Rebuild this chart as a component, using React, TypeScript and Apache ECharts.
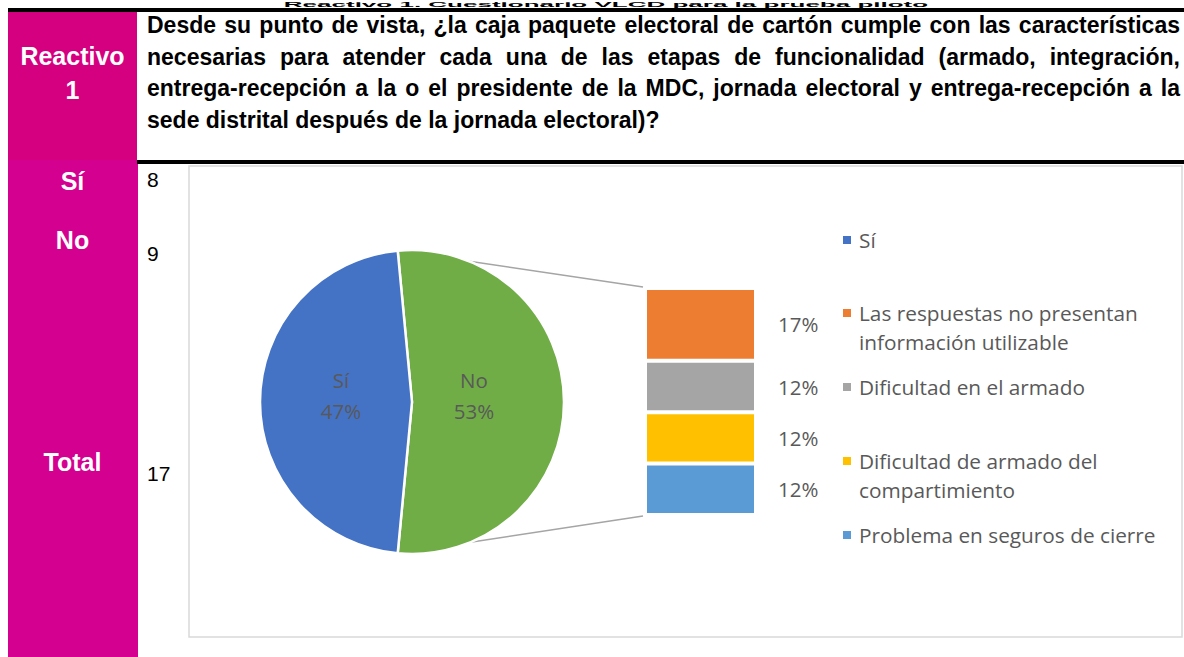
import React, { useEffect, useRef } from "react";
import * as echarts from "echarts";

// ---------- data ----------
const pageTitle = "Reactivo 1. Cuestionario VLCD para la prueba piloto";
const itemLabel = ["Reactivo", "1"];
const questionLines = [
  "Desde su punto de vista, ¿la caja paquete electoral de cartón cumple con las características",
  "necesarias para atender cada una de las etapas de funcionalidad (armado, integración,",
  "entrega-recepción a la o el presidente de la MDC, jornada electoral y entrega-recepción a la",
  "sede distrital después de la jornada electoral)?",
];
const rowLabels = ["Sí", "No", "Total"];
const rowCounts = [8, 9, 17];

const siName = "Sí";
const noName = "No";
const siPercent = 47;
const noReasons = [
  "Las respuestas no presentan información utilizable",
  "Dificultad en el armado",
  "Dificultad de armado del compartimiento",
  "Problema en seguros de cierre",
];
const noReasonPercents = [17, 12, 12, 12];
const legendLines = [
  ["Sí"],
  ["Las respuestas no presentan", "información utilizable"],
  ["Dificultad en el armado"],
  ["Dificultad de armado del", "compartimiento"],
  ["Problema en seguros de cierre"],
];

// ---------- styles ----------
const siColor = "#4472C4";
const noColor = "#70AD47";
const reasonColors = ["#ED7D31", "#A5A5A5", "#FFC000", "#5B9BD5"];
const legendColors = [siColor, ...reasonColors];
const textGrey = "#595959";
const labelFont = '"Open Sans", "Noto Sans", sans-serif';

const rowLabelY = [181, 240, 462];
const rowCountY = [180, 254, 474];
const legendY = [75, 148, 222, 296, 370];

const magentaTop = "#D5007F";
const magentaBottom = "#D4008F";

function Chart() {
  const ref = useRef<HTMLDivElement>(null);
  useEffect(() => {
    if (!ref.current) return;
    const chart = echarts.init(ref.current, undefined, { renderer: "svg" });
    const noTotal = noReasonPercents.reduce((a, b) => a + b, 0);
    const total = siPercent + noTotal;
    const half = (noTotal / total) * 180;
    const cx = 224;
    const cy = 237;
    const r = 152;
    const rad = (half * Math.PI) / 180;
    const px = cx + r * Math.cos(rad);
    const py1 = cy - r * Math.sin(rad);
    const py2 = cy + r * Math.sin(rad);
    const grid = { left: 457, top: 123, width: 111, height: 227 };

    const graphic: any[] = [
      {
        type: "rect",
        z: 0,
        shape: { x: 1, y: 1, width: 993, height: 471 },
        style: { fill: "none", stroke: "#D9D9D9", lineWidth: 1.5 },
      },
      {
        type: "line",
        z: 0,
        shape: { x1: px, y1: py1, x2: grid.left - 2, y2: grid.top - 1 },
        style: { stroke: "#A5A5A5", lineWidth: 1.5 },
      },
      {
        type: "line",
        z: 0,
        shape: { x1: px, y1: py2, x2: grid.left - 2, y2: grid.top + grid.height + 1 },
        style: { stroke: "#A5A5A5", lineWidth: 1.5 },
      },
    ];
    legendLines.forEach((lines, i) => {
      const y = legendY[i];
      graphic.push({
        type: "rect",
        z: 10,
        shape: { x: 655, y: y - 4, width: 8, height: 8 },
        style: { fill: legendColors[i] },
      });
      graphic.push({
        type: "text",
        z: 10,
        x: 671,
        y: y - 14.5,
        style: {
          text: lines.join("\n"),
          fill: textGrey,
          font: `20.8px ${labelFont}`,
          lineHeight: 29,
          verticalAlign: "top",
          textAlign: "left",
        },
      });
    });

    chart.setOption({
      animation: false,
      grid: { ...grid, containLabel: false },
      xAxis: { type: "category", data: [noName], show: false },
      yAxis: { type: "value", min: 0, max: noTotal, inverse: true, show: false },
      graphic,
      series: [
        {
          type: "pie",
          center: [cx, cy],
          radius: r,
          startAngle: half,
          clockwise: true,
          z: 5,
          data: [
            {
              name: noName,
              value: noTotal,
              itemStyle: { color: noColor },
              label: { offset: [-17, -7] },
            },
            {
              name: siName,
              value: siPercent,
              itemStyle: { color: siColor },
              label: { offset: [8, -7] },
            },
          ],
          itemStyle: { borderColor: "#ffffff", borderWidth: 2.5 },
          label: {
            show: true,
            position: "inside",
            formatter: "{b}\n{c}%",
            color: textGrey,
            fontSize: 20.5,
            lineHeight: 31,
            fontFamily: labelFont,
          },
          labelLine: { show: false },
          emphasis: { disabled: true },
        },
        ...noReasons.map((name, i) => ({
          type: "bar",
          name,
          stack: "no",
          data: [noReasonPercents[i]],
          barWidth: "100%",
          itemStyle: { color: reasonColors[i], borderColor: "#ffffff", borderWidth: 2 },
          label: {
            show: true,
            position: "right",
            distance: 22,
            formatter: "{c}%",
            color: textGrey,
            fontSize: 20.5,
            fontFamily: labelFont,
          },
          emphasis: { disabled: true },
        })),
      ],
    });
    return () => chart.dispose();
  }, []);
  return (
    <div
      ref={ref}
      style={{ position: "absolute", left: 188, top: 165, width: 996, height: 474 }}
    />
  );
}

export default function App() {
  const white: React.CSSProperties = {
    position: "absolute",
    left: 8,
    width: 129,
    textAlign: "center",
    color: "#ffffff",
    fontWeight: "bold",
    fontSize: 25,
    lineHeight: "34px",
  };
  return (
    <div
      style={{
        position: "relative",
        width: 1184,
        height: 657,
        overflow: "hidden",
        background: "#ffffff",
        fontFamily: '"Liberation Sans", Arial, sans-serif',
        color: "#000000",
      }}
    >
      <style>{"html,body{margin:0;padding:0;}"}</style>
      <div
        style={{
          position: "absolute",
          left: 206,
          width: 800,
          top: 0,
          height: 8,
          overflow: "hidden",
        }}
      >
        <div
          style={{
            position: "absolute",
            left: 0,
            width: 800,
            top: 0,
            textAlign: "center",
            fontWeight: "bold",
            fontSize: 26,
            lineHeight: "26px",
            whiteSpace: "nowrap",
            transform: "scaleY(0.3)",
            transformOrigin: "50% 0",
          }}
        >
          {pageTitle}
        </div>
      </div>
      <div style={{ position: "absolute", left: 8, top: 8, width: 1176, height: 4, background: "#000" }} />
      <div style={{ position: "absolute", left: 8, top: 12, width: 129, height: 148, background: magentaTop }} />
      <div style={{ position: "absolute", left: 8, top: 160, width: 130, height: 497, background: magentaBottom }} />
      <div style={{ position: "absolute", left: 137, top: 160, width: 1047, height: 4, background: "#000" }} />
      {itemLabel.map((t, i) => (
        <div key={t} style={{ ...white, top: 39 + i * 34 }}>
          {t}
        </div>
      ))}
      {questionLines.map((t, i) => (
        <div
          key={i}
          style={{
            position: "absolute",
            left: 147,
            width: 1033,
            top: 10 + i * 31.5,
            fontWeight: "bold",
            fontSize: 23,
            lineHeight: "31.5px",
            textAlign: i < questionLines.length - 1 ? "justify" : "left",
            textAlignLast: i < questionLines.length - 1 ? "justify" : "left",
          } as React.CSSProperties}
        >
          {t}
        </div>
      ))}
      {rowLabels.map((t, i) => (
        <div key={t} style={{ ...white, top: rowLabelY[i] - 17 }}>
          {t}
        </div>
      ))}
      {rowCounts.map((v, i) => (
        <div
          key={i}
          style={{
            position: "absolute",
            left: 147,
            top: rowCountY[i] - 12,
            fontSize: 21,
            lineHeight: "24px",
          }}
        >
          {v}
        </div>
      ))}
      <Chart />
    </div>
  );
}
